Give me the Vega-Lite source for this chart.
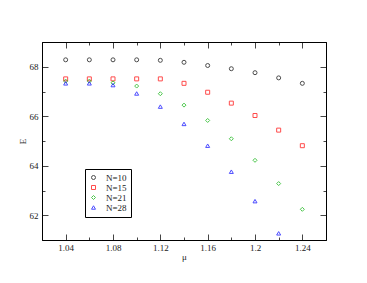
{
  "$schema": "https://vega.github.io/schema/vega-lite/v6.json",
  "width": 284,
  "height": 198,
  "autosize": {"type": "none"},
  "padding": {"left": 42, "top": 42, "right": 41, "bottom": 43},
  "background": "white",
  "config": {
    "view": {"stroke": "black", "strokeWidth": 1},
    "font": "Liberation Serif",
    "axis": {
      "labelFont": "Liberation Serif",
      "labelFontSize": 9,
      "labelColor": "#222",
      "titleFont": "Liberation Serif",
      "titleFontSize": 9,
      "titleFontWeight": "normal",
      "titleColor": "#222",
      "domainColor": "black",
      "tickColor": "#444",
      "grid": false
    }
  },
  "data": {
    "values": [
      {"mu": 1.04, "E": 68.28, "N": "N=10"},
      {"mu": 1.06, "E": 68.28, "N": "N=10"},
      {"mu": 1.08, "E": 68.28, "N": "N=10"},
      {"mu": 1.10, "E": 68.28, "N": "N=10"},
      {"mu": 1.12, "E": 68.26, "N": "N=10"},
      {"mu": 1.14, "E": 68.18, "N": "N=10"},
      {"mu": 1.16, "E": 68.05, "N": "N=10"},
      {"mu": 1.18, "E": 67.92, "N": "N=10"},
      {"mu": 1.20, "E": 67.76, "N": "N=10"},
      {"mu": 1.22, "E": 67.55, "N": "N=10"},
      {"mu": 1.24, "E": 67.33, "N": "N=10"},
      {"mu": 1.04, "E": 67.51, "N": "N=15"},
      {"mu": 1.06, "E": 67.51, "N": "N=15"},
      {"mu": 1.08, "E": 67.51, "N": "N=15"},
      {"mu": 1.10, "E": 67.51, "N": "N=15"},
      {"mu": 1.12, "E": 67.51, "N": "N=15"},
      {"mu": 1.14, "E": 67.33, "N": "N=15"},
      {"mu": 1.16, "E": 66.97, "N": "N=15"},
      {"mu": 1.18, "E": 66.53, "N": "N=15"},
      {"mu": 1.20, "E": 66.03, "N": "N=15"},
      {"mu": 1.22, "E": 65.44, "N": "N=15"},
      {"mu": 1.24, "E": 64.81, "N": "N=15"},
      {"mu": 1.04, "E": 67.42, "N": "N=21"},
      {"mu": 1.06, "E": 67.42, "N": "N=21"},
      {"mu": 1.08, "E": 67.35, "N": "N=21"},
      {"mu": 1.10, "E": 67.22, "N": "N=21"},
      {"mu": 1.12, "E": 66.91, "N": "N=21"},
      {"mu": 1.14, "E": 66.45, "N": "N=21"},
      {"mu": 1.16, "E": 65.83, "N": "N=21"},
      {"mu": 1.18, "E": 65.09, "N": "N=21"},
      {"mu": 1.20, "E": 64.22, "N": "N=21"},
      {"mu": 1.22, "E": 63.28, "N": "N=21"},
      {"mu": 1.24, "E": 62.24, "N": "N=21"},
      {"mu": 1.04, "E": 67.33, "N": "N=28"},
      {"mu": 1.06, "E": 67.33, "N": "N=28"},
      {"mu": 1.08, "E": 67.26, "N": "N=28"},
      {"mu": 1.10, "E": 66.92, "N": "N=28"},
      {"mu": 1.12, "E": 66.39, "N": "N=28"},
      {"mu": 1.14, "E": 65.69, "N": "N=28"},
      {"mu": 1.16, "E": 64.81, "N": "N=28"},
      {"mu": 1.18, "E": 63.76, "N": "N=28"},
      {"mu": 1.20, "E": 62.57, "N": "N=28"},
      {"mu": 1.22, "E": 61.27, "N": "N=28"}
    ]
  },
  "layer": [
    {
      "mark": {"type": "point", "filled": false, "size": 16, "strokeWidth": 1},
      "encoding": {
        "x": {
          "field": "mu", "type": "quantitative",
          "scale": {"domain": [1.02, 1.26], "nice": false, "zero": false},
          "axis": {
            "orient": "bottom",
            "title": "μ",
            "values": [1.04, 1.06, 1.08, 1.10, 1.12, 1.14, 1.16, 1.18, 1.20, 1.22, 1.24],
            "format": ".2~f",
            "labelExpr": "round(datum.value*100) % 4 == 0 ? datum.label : ''",
            "tickSize": {"condition": {"test": "round(datum.value*100) % 4 == 0", "value": -6}, "value": -3},
            "labelPadding": 9,
            "titlePadding": 0,
            "labelFlush": false
          }
        },
        "y": {
          "field": "E", "type": "quantitative",
          "scale": {"domain": [61, 69], "nice": false, "zero": false},
          "axis": {
            "orient": "left",
            "title": "E",
            "values": [62, 63, 64, 65, 66, 67, 68],
            "format": "d",
            "labelExpr": "datum.value % 2 == 0 ? datum.label : ''",
            "tickSize": {"condition": {"test": "datum.value % 2 == 0", "value": -6}, "value": -3},
            "labelPadding": 10,
            "titlePadding": 2,
            "labelFlush": false
          }
        },
        "color": {
          "field": "N", "type": "nominal",
          "scale": {"domain": ["N=10", "N=15", "N=21", "N=28"], "range": ["#000000", "#ff0000", "#00b000", "#0000ff"]},
          "legend": {
            "title": null,
            "orient": "none",
            "legendX": 43,
            "legendY": 127,
            "strokeColor": "black",
            "fillColor": "white",
            "padding": 4,
            "rowPadding": 0,
            "symbolSize": 16,
            "symbolStrokeWidth": 1,
            "labelFont": "Liberation Serif",
            "labelFontSize": 9,
            "labelColor": "#222",
            "labelOffset": 8
          }
        },
        "shape": {
          "field": "N", "type": "nominal",
          "scale": {"domain": ["N=10", "N=15", "N=21", "N=28"], "range": ["circle", "square", "diamond", "triangle-up"]},
          "legend": {
            "title": null,
            "orient": "none",
            "legendX": 43,
            "legendY": 127,
            "strokeColor": "black",
            "fillColor": "white",
            "padding": 4,
            "rowPadding": 0,
            "symbolSize": 16,
            "symbolStrokeWidth": 1,
            "labelFont": "Liberation Serif",
            "labelFontSize": 9,
            "labelColor": "#222",
            "labelOffset": 8
          }
        }
      }
    },
    {
      "mark": {"type": "point", "opacity": 0},
      "encoding": {
        "x": {
          "field": "mu", "type": "quantitative",
          "scale": {"domain": [1.02, 1.26], "nice": false, "zero": false},
          "axis": {
            "orient": "top",
            "title": null,
            "labels": false,
            "values": [1.04, 1.06, 1.08, 1.10, 1.12, 1.14, 1.16, 1.18, 1.20, 1.22, 1.24],
            "tickSize": {"condition": {"test": "round(datum.value*100) % 4 == 0", "value": -6}, "value": -3}
          }
        },
        "y": {
          "field": "E", "type": "quantitative",
          "scale": {"domain": [61, 69], "nice": false, "zero": false},
          "axis": {
            "orient": "right",
            "title": null,
            "labels": false,
            "values": [62, 63, 64, 65, 66, 67, 68],
            "tickSize": {"condition": {"test": "datum.value % 2 == 0", "value": -6}, "value": -3}
          }
        }
      }
    }
  ],
  "resolve": {"axis": {"x": "independent", "y": "independent"}}
}
